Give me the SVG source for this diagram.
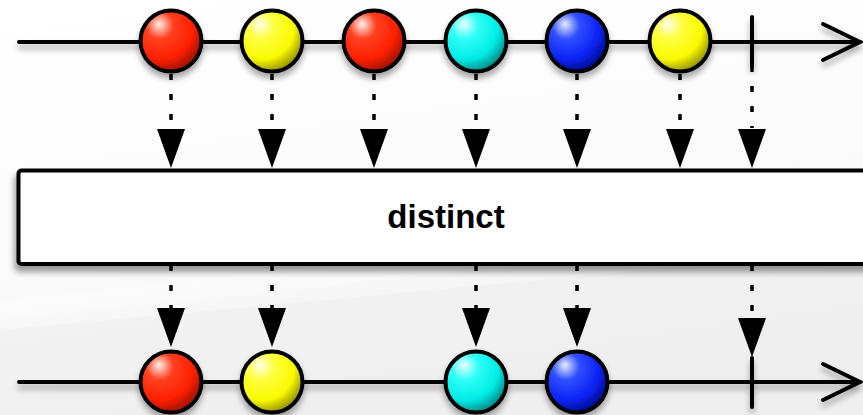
<svg xmlns="http://www.w3.org/2000/svg" width="863" height="415" viewBox="0 0 863 415">
<defs>
<linearGradient id="bg" x1="0" y1="0" x2="0.3" y2="1">
<stop offset="0" stop-color="#ffffff"/>
<stop offset="0.6" stop-color="#fbfbfb"/>
<stop offset="1" stop-color="#f0f0f0"/>
</linearGradient>
<radialGradient id="gRed" cx="0.35" cy="0.3" r="0.75" fx="0.3" fy="0.22">
<stop offset="0" stop-color="#fff0ea"/>
<stop offset="0.3" stop-color="#ff4020"/>
<stop offset="0.7" stop-color="#ff2000"/>
<stop offset="1" stop-color="#901000"/>
</radialGradient>
<radialGradient id="gYellow" cx="0.35" cy="0.3" r="0.75" fx="0.3" fy="0.22">
<stop offset="0" stop-color="#ffffee"/>
<stop offset="0.3" stop-color="#ffff40"/>
<stop offset="0.7" stop-color="#fafa00"/>
<stop offset="1" stop-color="#8a8600"/>
</radialGradient>
<radialGradient id="gCyan" cx="0.35" cy="0.3" r="0.75" fx="0.3" fy="0.22">
<stop offset="0" stop-color="#eaffff"/>
<stop offset="0.3" stop-color="#30fff8"/>
<stop offset="0.7" stop-color="#00ece6"/>
<stop offset="1" stop-color="#007e7a"/>
</radialGradient>
<radialGradient id="gBlue" cx="0.35" cy="0.3" r="0.75" fx="0.3" fy="0.22">
<stop offset="0" stop-color="#e8ecff"/>
<stop offset="0.3" stop-color="#3050ff"/>
<stop offset="0.7" stop-color="#0a22f4"/>
<stop offset="1" stop-color="#000a80"/>
</radialGradient>
<filter id="sh" x="-20%" y="-40%" width="140%" height="200%">
<feGaussianBlur in="SourceAlpha" stdDeviation="3"/>
<feOffset dx="0" dy="5" result="b"/>
<feComponentTransfer><feFuncA type="linear" slope="0.35"/></feComponentTransfer>
<feMerge><feMergeNode/><feMergeNode in="SourceGraphic"/></feMerge>
</filter>
<filter id="shBox" x="-5%" y="-20%" width="110%" height="150%">
<feGaussianBlur in="SourceAlpha" stdDeviation="3"/>
<feOffset dx="-2" dy="6" result="b"/>
<feComponentTransfer><feFuncA type="linear" slope="0.4"/></feComponentTransfer>
<feMerge><feMergeNode/><feMergeNode in="SourceGraphic"/></feMerge>
</filter>
</defs>
<style>
.line{stroke:#000;stroke-width:4;fill:none;stroke-linecap:round}
.ball{stroke:#000;stroke-width:4}
.dot{stroke:#000;stroke-width:3.5;fill:none;stroke-dasharray:6 14}
.tri{fill:#000}
.lbl{font-family:"Liberation Sans",Arial,sans-serif;font-weight:bold;font-size:33px;fill:#000}
</style>
<rect width="863" height="415" fill="url(#bg)"/>
<polygon points="0,330 863,250 863,415 0,415" fill="#eeeeee" opacity="0.6"/>
<polygon points="0,300 863,210 863,230 0,320" fill="#ffffff" opacity="0.35"/>

<g id="connectors">
<path class="dot" d="M171,74V128 M272,74V128 M374,74V128 M476,74V128 M577,74V128 M680,74V128 M752,66V128"/>
<path class="tri" d="M157,129H185L171,168Z M258,129H286L272,168Z M360,129H388L374,168Z M462,129H490L476,168Z M563,129H591L577,168Z M666,129H694L680,168Z M738,129H766L752,168Z"/>
<path class="dot" d="M171,265V308 M272,265V308 M476,265V308 M577,265V308 M752,265V318"/>
<path class="tri" d="M157,308H185L171,347Z M258,308H286L272,347Z M462,308H490L476,347Z M563,308H591L577,347Z M738,318H766L752,357Z"/>
</g>

<g id="top-timeline" filter="url(#sh)">
<path class="line" d="M19,42H860"/>
<path class="line" d="M823,24L860,42L823,60"/>
<path class="line" d="M752,17V66"/>
</g>
<g id="top-red-1"><circle class="ball" cx="171" cy="41" r="30.5" fill="url(#gRed)" filter="url(#sh)"/></g>
<g id="top-yellow-1"><circle class="ball" cx="272" cy="41" r="30.5" fill="url(#gYellow)" filter="url(#sh)"/></g>
<g id="top-red-2"><circle class="ball" cx="374" cy="41" r="30.5" fill="url(#gRed)" filter="url(#sh)"/></g>
<g id="top-cyan"><circle class="ball" cx="476" cy="41" r="30.5" fill="url(#gCyan)" filter="url(#sh)"/></g>
<g id="top-blue"><circle class="ball" cx="577" cy="41" r="30.5" fill="url(#gBlue)" filter="url(#sh)"/></g>
<g id="top-yellow-2"><circle class="ball" cx="680" cy="41" r="30.5" fill="url(#gYellow)" filter="url(#sh)"/></g>

<g id="operator">
<rect x="18.5" y="170.5" width="900" height="93.5" rx="3" fill="#fff" stroke="#000" stroke-width="4" filter="url(#shBox)"/>
<text class="lbl" x="446" y="228" text-anchor="middle">distinct</text>
</g>

<g id="bottom-timeline" filter="url(#sh)">
<path class="line" d="M19,382H860"/>
<path class="line" d="M823,364L860,382L823,400"/>
<path class="line" d="M752,358V407"/>
</g>
<g id="bottom-red"><circle class="ball" cx="171" cy="382" r="30.5" fill="url(#gRed)" filter="url(#sh)"/></g>
<g id="bottom-yellow"><circle class="ball" cx="272" cy="382" r="30.5" fill="url(#gYellow)" filter="url(#sh)"/></g>
<g id="bottom-cyan"><circle class="ball" cx="476" cy="382" r="30.5" fill="url(#gCyan)" filter="url(#sh)"/></g>
<g id="bottom-blue"><circle class="ball" cx="577" cy="382" r="30.5" fill="url(#gBlue)" filter="url(#sh)"/></g>
</svg>
